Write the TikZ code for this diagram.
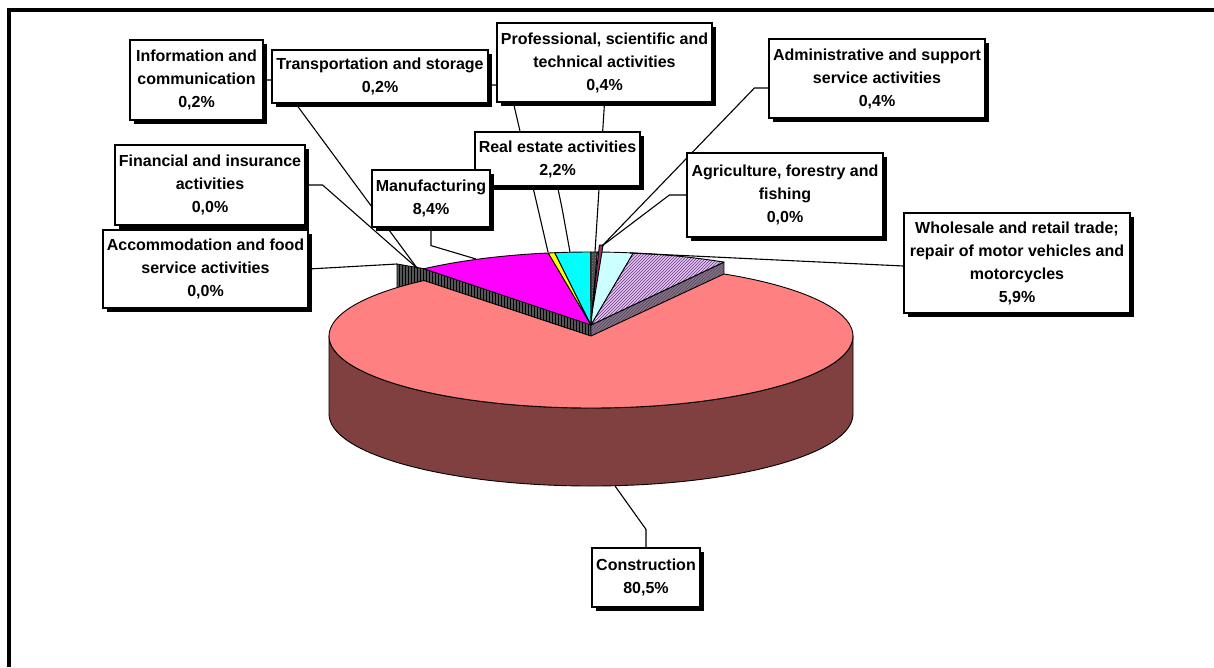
\documentclass[tikz,border=0pt]{standalone}
\usepackage{fontspec}
\setmainfont{Liberation Sans}
\usetikzlibrary{shadows,patterns,calc}
\pgfdeclarelayer{pielayer}
\pgfdeclarelayer{lines}
\pgfsetlayers{pielayer,lines,main}
\definecolor{salmon}{HTML}{FF8080}
\definecolor{brownred}{HTML}{804040}
\definecolor{mag}{HTML}{FF00FF}
\definecolor{yel}{HTML}{FFFF00}
\definecolor{cya}{HTML}{00FFFF}
\definecolor{lcya}{HTML}{CCFFFF}
\definecolor{dgrey}{HTML}{4A4A4A}
\definecolor{maroonc}{HTML}{993366}
\definecolor{lilac}{HTML}{E4C4F4}
\definecolor{purp}{HTML}{6A3A80}
\definecolor{sidepurp}{HTML}{8A7090}
\definecolor{bandgrey}{HTML}{555555}
\newcommand\gslice[3]{\draw[#3] (G) -- ++({262*cos(#1)},{73*sin(#1)}) arc[start angle=#1,end angle=#2,x radius=262,y radius=73] -- cycle;}
\tikzset{
  lbl/.style={draw=black, line width=1.2pt, fill=white, inner sep=0pt, align=center,
    font=\fontsize{16}{23}\selectfont\bfseries,
    general shadow={fill=black, shadow xshift=4pt, shadow yshift=-4pt}},
  lead/.style={draw=black, line width=1.1pt},
  pie/.style={draw=black, line width=0.9pt, line join=round}
}
\begin{document}
\begin{tikzpicture}[x=1pt,y=1pt]
\useasboundingbox (0,0) rectangle (1214,-667);
% frame
\draw[line width=3.6pt] (7.4,-10) -- (1214,-10);
\draw[line width=3.6pt] (9.2,-8.2) -- (9.2,-667);

\begin{pgfonlayer}{pielayer}
% ---- rest of pie (behind) ----
\coordinate (G) at (591,-325);
\draw[pie, preaction={fill=bandgrey}, pattern=vertical lines, pattern color=black]
  (397,-264) -- (424,-268.7) -- (G) -- (591,-352) -- (397,-302) -- cycle;
\draw[pie, preaction={fill=sidepurp}, pattern=north east lines, pattern color=black!70]
  (G) -- ++({262*cos(59.5)},{73*sin(59.5)}) -- ++(0,-78) -- (591,-403) -- cycle;
\gslice{129.6}{99.4}{pie, fill=mag}
\gslice{99.4}{97.96}{pie, fill=yel}
\gslice{97.96}{90.04}{pie, fill=cya}
\gslice{90.04}{88.6}{pie, preaction={fill=dgrey}, pattern=crosshatch dots, pattern color=gray}
\gslice{88.6}{80.7}{pie, fill=lcya}
\gslice{80.7}{59.5}{pie, preaction={fill=lilac}, pattern=north east lines, pattern color=purp}
\draw[pie, fill=maroonc] (591.2,-318) -- ++({262*cos(88.2)},{73*sin(88.2)}) arc[start angle=88.2,end angle=87.4,x radius=262,y radius=73] -- cycle;
% ---- construction slice (exploded to the front) ----
\coordinate (C) at (591,-336);
\draw[pie, fill=brownred] (329,-336) -- ++(0,-78) arc[start angle=180,end angle=360,x radius=262,y radius=72] -- ++(0,78) arc[start angle=0,end angle=-180,x radius=262,y radius=72] -- cycle;
\draw[pie, fill=salmon] (C) -- ++({262*cos(129.6)},{72*sin(129.6)}) arc[start angle=129.6,end angle=419.5,x radius=262,y radius=72] -- cycle;
\end{pgfonlayer}

% ---- leader end points on the pie ----
\coordinate (pL) at (417,-268);
\coordinate (pAcc) at (397,-264);
\coordinate (pYel) at (548,-252);
\coordinate (pDG) at (595,-252);
\coordinate (pCy) at (570,-252);
\coordinate (pMag) at (476,-259);
\coordinate (pMar) at (602,-246);
\coordinate (pWh) at (630,-253);
\coordinate (pCon) at (615,-486);
\coordinate (hInfo) at (296,-104);
\coordinate (hTr1) at (501,-85);
\coordinate (hTr2) at (513,-101);
\coordinate (hRe) at (562,-208);

% ---- labels ----
\node[lbl, minimum width=133, minimum height=80] (info) at (196.5,-80) {Information and\\communication\\0,2\%};
\node[lbl, minimum width=216, minimum height=53] (trans) at (380,-76.5) {Transportation and storage\\0,2\%};
\node[lbl, minimum width=215, minimum height=79] (prof) at (604.5,-62.5) {Professional, scientific and\\technical activities\\0,4\%};
\node[lbl, minimum width=216, minimum height=79] (admin) at (877,-78.5) {Administrative and support\\service activities\\0,4\%};
\node[lbl, minimum width=190, minimum height=80] (fin) at (210,-185) {Financial and insurance\\activities\\0,0\%};
\node[lbl, minimum width=205, minimum height=78] (accom) at (205.5,-269) {Accommodation and food\\service activities\\0,0\%};
\node[lbl, minimum width=196, minimum height=84] (agri) at (785,-195) {Agriculture, forestry and\\fishing\\0,0\%};
\node[lbl, minimum width=226, minimum height=100] (whole) at (1017,-263) {Wholesale and retail trade;\\repair of motor vehicles and\\motorcycles\\5,9\%};
\node[lbl, minimum width=165, minimum height=54] (real) at (557.5,-159) {Real estate activities\\2,2\%};
\node[lbl, minimum width=118, minimum height=57] (manu) at (431,-198.5) {Manufacturing\\8,4\%};
\node[lbl, minimum width=108, minimum height=59] (cons) at (646,-577.5) {Construction\\80,5\%};

% ---- leader lines (under the boxes) ----
\begin{pgfonlayer}{lines}
\draw[lead] (info.east) -- ++(9,0) -- (hInfo) -- (pL);
\draw[lead] (fin.east) -- ++(17,0) -- (pL);
\draw[lead] (accom.east) -- (pAcc);
\draw[lead] ([yshift=-8.5pt]trans.east) -- (hTr1) -- (hTr2) -- (pYel);
\draw[lead] (prof.south) -- (pDG);
\draw[lead] ([yshift=-9.5pt]admin.west) -- ++(-14,0) -- (pMar);
\draw[lead] (agri.west) -- ++(-17,0) -- (pMar);
\draw[lead] ([yshift=-3pt]whole.west) -- (pWh);
\draw[lead] (cons.north) -- ++(0,18) -- (pCon);
\draw[lead] (manu.south) -- ++(0,-18) -- (pMag);
\draw[lead] (real.south) -- (hRe) -- (pCy);
\end{pgfonlayer}
\end{tikzpicture}
\end{document}
